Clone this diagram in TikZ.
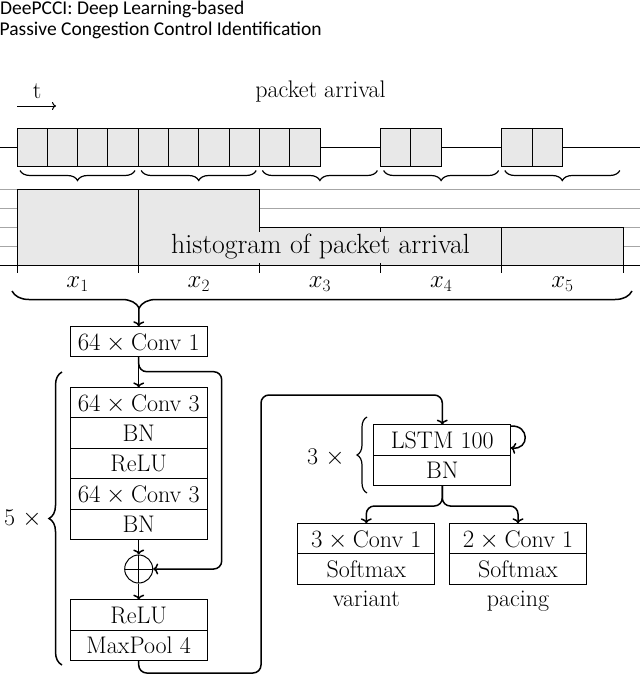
\documentclass[tikz,border=0pt]{standalone}
\usepackage{fontspec}
\newfontfamily\hdrfont{Carlito}
\usetikzlibrary{arrows.meta,decorations.pathreplacing,calc}
\definecolor{barfill}{gray}{0.91}
\begin{document}
\begin{tikzpicture}[x=1pt,y=-1pt,
  every node/.style={font=\fontsize{24}{28}\selectfont},
  row/.style={draw, line width=0.9pt, minimum width=137pt, minimum height=30.4pt, inner sep=0pt, outer sep=0pt, text height=17pt, text depth=0pt},
  conn/.style={line width=1.5pt, -{To[length=5pt,width=11pt]}, rounded corners=8pt},
  pkt/.style={draw, line width=1pt, fill=barfill},
  bar/.style={draw, line width=1pt, fill=barfill},
  grid/.style={gray!70, line width=0.9pt},
  brc/.style={decorate, line width=1.2pt},
  lbl/.style={inner sep=0pt}
]
\useasboundingbox (0,0) rectangle (640,677);

% header
\node[lbl, anchor=base west, font=\hdrfont\fontsize{19.5}{22}\selectfont] (h1) at (0,14.5) {DeePCCI: Deep Learning-based};
\node[lbl, anchor=base west, font=\hdrfont\fontsize{19.5}{22}\selectfont] (h2) at (-0.5,35.5) {Passive Congestion Control Identification};

% time arrow
\node[lbl, anchor=base] (tl) at (37,99) {t};
\coordinate (ta) at (17,106);
\coordinate (tb) at (56,106);
\draw[line width=1pt, -{To[length=4pt,width=8pt]}] (ta) -- (tb);

\node[lbl, anchor=base] (pa) at (320.5,97) {packet arrival};

% packet line and packets
\draw[line width=1.4pt] (0,147.3) -- (640,147.3);
\foreach \i in {0,...,9} \draw[pkt] ({17+30.3*\i},128.3) rectangle ++(30.3,37.7);
\foreach \s in {380.6,501.8} {
  \draw[pkt] (\s,128.3) rectangle ++(30.3,37.7);
  \draw[pkt] (\s+30.3,128.3) rectangle ++(30.3,37.7);
}
% small braces
\foreach \a in {17,138.2,259.4,380.6,501.8}
  \draw[brc, decoration={brace, mirror, amplitude=10pt}] (\a+3,170.5) -- (\a+118,170.5);

% histogram grid
\foreach \y in {189.3,208.3,227.3,246.3} \draw[grid] (0,\y) -- (640,\y);
\draw[bar] (17,189.3) rectangle (138.2,265.3);
\draw[bar] (138.2,189.3) rectangle (259.4,265.3);
\draw[bar] (259.4,227.3) rectangle (380.6,265.3);
\draw[bar] (380.6,227.3) rectangle (501.8,265.3);
\draw[bar] (501.8,227.3) rectangle (623,265.3);
\node[lbl, anchor=base, fill=barfill, inner xsep=2pt, text height=21.5pt, text depth=10pt, font=\fontsize{27.8}{32}\selectfont] (hist) at (320.5,253.3) {histogram of packet arrival};
\draw[line width=1.4pt] (0,265.3) -- (640,265.3);
\foreach \a in {17,138.2,259.4,380.6,501.8,623} \draw[line width=1pt] (\a,263.3) -- (\a,273);
\foreach \i/\c in {1/77.6,2/198.8,3/320,4/441.2,5/562.4}
  \node[lbl, font=\fontsize{24}{28}\selectfont] (x\i) at (\c,284) {$x_{\i}$};

% big brace
\draw[brc, line width=1.5pt, decoration={brace, mirror, amplitude=17pt, aspect=0.205}] (12,291) -- (632,291);
\coordinate (btip) at (139,308);

% CNN part
\node[row] (conv1) at (138.7,341.5) {$64\times{}$Conv 1};
\node[row] (c3a) at (138.7,402.6) {$64\times{}$Conv 3};
\node[row, anchor=north] (bn1) at (c3a.south) {BN};
\node[row, anchor=north] (relu1) at (bn1.south) {ReLU};
\node[row, anchor=north] (c3b) at (relu1.south) {$64\times{}$Conv 3};
\node[row, anchor=north] (bn2) at (c3b.south) {BN};
\node[circle, draw, line width=1pt, minimum size=28pt, inner sep=0pt,
  path picture={\draw[line width=1pt] (path picture bounding box.north) -- (path picture bounding box.south)
  (path picture bounding box.west) -- (path picture bounding box.east);}] (plus) at (138.7,569) {};
\node[row] (relu2) at (138.7,614.8) {ReLU};
\node[row, anchor=north] (mp) at (relu2.south) {MaxPool 4};

\draw[conn] (btip) -- (conv1.north);
\draw[conn] (conv1.south) -- (c3a.north);
\coordinate (skip) at (221.7,371.7);
\draw[conn] (conv1.south) |- (skip) |- (plus.east);
\draw[conn] (bn2.south) -- (plus.north);
\draw[conn] (plus.south) -- (relu2.north);

% brace 5x
\draw[brc, line width=1.5pt, decoration={brace, amplitude=13pt}] (62,665) -- (62,372);
\node[lbl] (five) at (23,519) {5 $\times$};

% LSTM part
\node[row] (lstm) at (442.3,439.8) {LSTM 100};
\node[row, anchor=north] (bn3) at (lstm.south) {BN};
\draw[brc, line width=1.2pt, decoration={brace, amplitude=10pt}] (367,493) -- (367,417);
\node[lbl] (three) at (326,458) {3 $\times$};

\coordinate (c1) at (261,673);
\coordinate (c2) at (261,395);
\draw[conn] (mp.south) |- (c1) -- (c2) -| (lstm.north);
\draw[conn, rounded corners=0pt] ([yshift=-1.5pt]lstm.north east) .. controls +(19,-1.5) and +(19,2.5) .. ([yshift=-8pt]lstm.east);

\node[row] (o1) at (366.3,538.5) {$3\times{}$Conv 1};
\node[row, anchor=north] (s1) at (o1.south) {Softmax};
\node[row] (o2) at (518,538.5) {$2\times{}$Conv 1};
\node[row, anchor=north] (s2) at (o2.south) {Softmax};
\node[lbl, anchor=base] (var) at (366.3,606.7) {variant};
\node[lbl, anchor=base] (pac) at (518,606.7) {pacing};

\coordinate (split) at (442.3,506);
\draw[conn] (bn3.south) -- (split) -| (o1.north);
\draw[conn] (bn3.south) -- (split) -| (o2.north);
\end{tikzpicture}
\end{document}
